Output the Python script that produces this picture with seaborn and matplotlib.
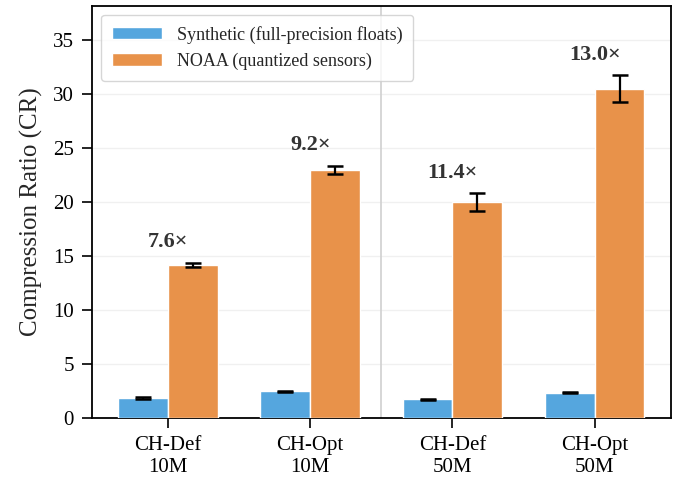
""" Compression ratio per config: synthetic vs NOAA data.
"""

import seaborn as sns
import matplotlib.pyplot as plt
import pandas as pd

configs = ['CH-Def\n10M', 'CH-Opt\n10M', 'CH-Def\n50M', 'CH-Opt\n50M']
series = ['Synthetic (full-precision floats)', 'NOAA (quantized sensors)']

synthetic_cr = [1.87, 2.50, 1.75, 2.35]
synthetic_err = [0.05, 0.05, 0.05, 0.05]
noaa_cr = [14.2, 23.0, 20.0, 30.5]
noaa_err = [0.2, 0.35, 0.82, 1.25]

colors = {series[0]: '#55a6de', series[1]: '#e8924a'}

sns.set_theme(style='white')
plt.rcParams['font.family'] = ['Liberation Serif', 'DejaVu Serif']

df = pd.DataFrame({
    'config': configs * 2,
    'dataset': [series[0]] * 4 + [series[1]] * 4,
    'cr': synthetic_cr + noaa_cr,
})

fig, ax = plt.subplots(figsize=(6.81, 4.79), dpi=100)
fig.subplots_adjust(left=0.135, right=0.985, bottom=0.127, top=0.988)

sns.barplot(data=df, x='config', y='cr', hue='dataset', palette=colors,
            width=0.7, errorbar=None, edgecolor='white', linewidth=1.0,
            saturation=1, ax=ax, zorder=3)

# error bars at bar centres
for cont, errs in zip(ax.containers, [synthetic_err, noaa_err]):
    xs = [p.get_x() + p.get_width() / 2 for p in cont]
    ys = [p.get_height() for p in cont]
    ax.errorbar(xs, ys, yerr=errs, fmt='none', ecolor='black',
                elinewidth=1.6, capsize=5.5, capthick=1.8, zorder=4)

# ratio annotations above NOAA bars
for i, cont in enumerate(ax.containers[1]):
    ratio = noaa_cr[i] / synthetic_cr[i]
    ax.text(i, noaa_cr[i] + noaa_err[i] + 1.0, f'{ratio:.1f}\u00d7',
            ha='center', va='bottom', fontsize=16, fontweight='bold',
            color='#333333')

ax.axvline(1.5, color='#d0d0d0', linewidth=1.2, zorder=1)
ax.yaxis.grid(True, color='#f0f0f0', linewidth=1.0, zorder=0)
ax.set_ylim(0, 38.2)
ax.set_yticks(range(0, 36, 5))
ax.set_xlabel('')
ax.set_ylabel('Compression Ratio (CR)', fontsize=18, labelpad=7)
ax.tick_params(axis='both', labelsize=15, length=7, width=1.2, pad=6,
               direction='out', bottom=True, left=True, colors='black')

for s in ax.spines.values():
    s.set_color('black')
    s.set_linewidth(1.3)

ax.legend(loc='upper left', fontsize=13, frameon=True, fancybox=True,
          edgecolor='#cccccc', handlelength=2.8, borderpad=0.6)

plt.savefig('out.png', dpi=100)
plt.close()
